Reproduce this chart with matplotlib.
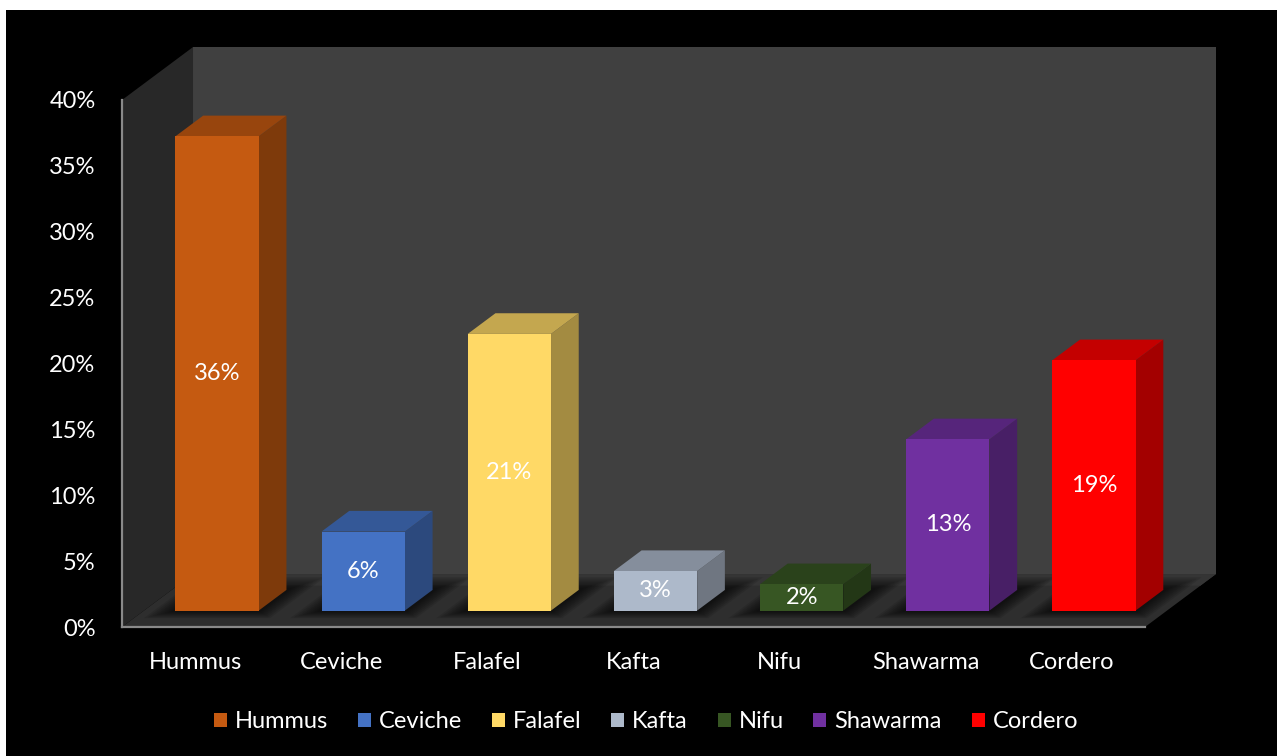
import matplotlib
matplotlib.use("Agg")
import matplotlib.pyplot as plt
from matplotlib.patches import Polygon, Rectangle
from matplotlib.colors import to_rgb

plt.rcParams["font.family"] = ["Lato", "DejaVu Sans"]

dishes = ["Hummus", "Ceviche", "Falafel", "Kafta", "Nifu", "Shawarma", "Cordero"]
shares = [36, 6, 21, 3, 2, 13, 19]
colors = ["#C55A11", "#4472C4", "#FFD966", "#ADB9CA", "#375623", "#7030A0", "#FF0000"]
y_ticks = [0, 5, 10, 15, 20, 25, 30, 35, 40]

BG = "#000000"
BACK_WALL = "#404040"
SIDE_WALL = "#282828"
FLOOR = "#2e2e2e"
AXIS_LINE = "#8a8a8a"
TEXT = "#ffffff"
FS = 17

# oblique depth offset in data units (x in categories, y in percent)
DX, DY = 0.486, 4.02
D0, D1 = 0.31, 0.70
BAR_W = 0.57
YMAX = 40


def proj(x, y, d):
    return (x + d * DX, y + d * DY)


def shade(c, f):
    r, g, b = to_rgb(c)
    return (r * f, g * f, b * f)


def poly(ax, pts, color, z, alpha=1.0):
    ax.add_patch(Polygon([proj(*p) for p in pts], closed=True, facecolor=color,
                         edgecolor="none", alpha=alpha, zorder=z, clip_on=False))


W, H = 1281, 756
fig = plt.figure(figsize=(W / 100, H / 100), dpi=100, facecolor="white")
fig.patches.append(Rectangle((6 / W, 0), (1277 - 6) / W, (H - 10) / H,
                             transform=fig.transFigure, facecolor=BG,
                             edgecolor="none", zorder=-1))

left, right, top, bottom = 122, 1145, 100, 627
ax = fig.add_axes([left / W, (H - bottom) / H, (right - left) / W, (bottom - top) / H])
ax.set_facecolor("none")
n = len(dishes)
ax.set_xlim(0, n)
ax.set_ylim(0, YMAX)

# walls and floor
poly(ax, [(0, 0, 1), (n, 0, 1), (n, YMAX, 1), (0, YMAX, 1)], BACK_WALL, 1)
poly(ax, [(0, 0, 0), (0, 0, 1), (0, YMAX, 1), (0, YMAX, 0)], SIDE_WALL, 1)
poly(ax, [(0, 0, 0), (n, 0, 0), (n, 0, 1), (0, 0, 1)], FLOOR, 1)
poly(ax, [(0, 0, 0.78), (n, 0, 0.78), (n, 0, 1), (0, 0, 1)], "#353535", 1.1)

# soft shadows around each bar footprint
for i in range(n):
    xl, xr = i + 0.5 - BAR_W / 2, i + 0.5 + BAR_W / 2
    for k in range(8):
        mx = 0.02 + k * 0.018
        md = 0.03 + k * 0.03
        poly(ax, [(xl - mx, 0, D0 - md * 0.6), (xr + mx, 0, D0 - md * 0.6),
                  (xr + mx, 0, min(D1 + md, 1)), (xl - mx, 0, min(D1 + md, 1))],
             "black", 1.5, alpha=0.1)

# bars: front, side and top faces
for i, (v, c) in enumerate(zip(shares, colors)):
    xl, xr = i + 0.5 - BAR_W / 2, i + 0.5 + BAR_W / 2
    poly(ax, [(xr, 0, D0), (xr, 0, D1), (xr, v, D1), (xr, v, D0)], shade(c, 0.64), 3)
    poly(ax, [(xl, v, D0), (xr, v, D0), (xr, v, D1), (xl, v, D1)], shade(c, 0.77), 3)
    poly(ax, [(xl, 0, D0), (xr, 0, D0), (xr, v, D0), (xl, v, D0)], c, 4)
    cx, cy = proj(i + 0.5, v / 2, D0)
    ax.text(cx, cy, f"{v}%", color=TEXT, fontsize=FS, ha="center", va="center",
            zorder=5)

for s in ["top", "right"]:
    ax.spines[s].set_visible(False)
for s in ["left", "bottom"]:
    ax.spines[s].set_color(AXIS_LINE)
    ax.spines[s].set_linewidth(1.6)
    ax.spines[s].set_zorder(6)

ax.set_yticks(y_ticks)
ax.set_yticklabels([f"{t}%" for t in y_ticks])
ax.set_xticks([i + 0.5 for i in range(n)])
ax.set_xticklabels(dishes)
ax.tick_params(axis="y", length=0, pad=19, labelsize=FS, colors=TEXT)
ax.tick_params(axis="x", length=0, pad=18, labelsize=FS, colors=TEXT)

handles = [Rectangle((0, 0), 1, 1, facecolor=c, edgecolor="none") for c in colors]
fig.legend(handles, dishes, loc="center", bbox_to_anchor=(646 / W, (H - 722) / H),
           ncol=n, frameon=False, fontsize=FS, labelcolor=TEXT,
           handlelength=0.55, handleheight=0.55, handletextpad=0.35,
           columnspacing=1.25)

fig.savefig("out.png", dpi=100, facecolor="white")
